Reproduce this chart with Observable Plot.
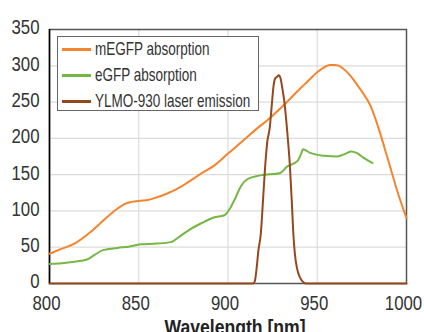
<!DOCTYPE html>
<html>
<head>
<meta charset="utf-8">
<script src="https://cdn.jsdelivr.net/npm/d3@7"></script>
<script src="https://cdn.jsdelivr.net/npm/@observablehq/plot@0.6"></script>
<style>
  html, body { margin: 0; padding: 0; background: #fff; }
  #wrap { position: relative; width: 424px; height: 332px; overflow: hidden; }
  #wrap svg { font-family: "Liberation Sans", Arial, sans-serif; }
  #legend {
    position: absolute; left: 57px; top: 36px; width: 202px; height: 75px;
    border: 1.5px solid #666; background: #fff; box-sizing: border-box;
    font-family: "Liberation Sans", Arial, sans-serif;
    font-size: 18.5px; color: #333;
  }
  .row { position: absolute; left: 0; height: 22px; line-height: 22px; white-space: nowrap; }
  .sw { position: absolute; left: 4px; top: 9px; width: 29px; height: 3px; }
  .lab { position: absolute; left: 37px; top: 0; transform: scaleX(0.73); transform-origin: left center; }
</style>
</head>
<body>
<div id="wrap"></div>
<script>
// mEGFP absorption
const megfpX = [800, 807, 814, 823, 832, 838, 842, 846, 851, 855, 858, 866, 874, 886, 892, 900, 910, 915, 924, 933, 941, 944, 950, 954, 957, 960, 963, 966, 969, 972, 976, 980, 983, 986, 989, 992, 995, 998, 1000];
const megfpY = [41, 48, 55, 71, 91, 103, 109.5, 112.5, 114, 115, 117, 124, 134, 153, 162, 179, 200, 211, 229, 250, 270, 277, 291, 298, 301, 301, 299, 293, 285, 275, 261, 244, 224, 201, 176, 151, 126, 104, 90];
// eGFP absorption
const egfpX = [800, 807, 814, 821, 825, 830, 838, 845, 851, 860, 868, 873, 879, 885, 892, 898, 901, 904, 907, 911, 918, 929, 933, 939, 941, 942, 946, 954, 961, 966, 969, 972, 976, 981];
const egfpY = [27, 28, 30, 33, 39, 46, 49, 51, 54, 55, 57, 65, 75, 83, 91, 94, 103, 117, 133, 144, 149, 152, 161, 169, 179, 185, 180, 176, 175, 179, 182, 180, 173, 166];
// YLMO-930 laser emission
const laserX = [800, 914, 915, 916, 917, 918.4, 919.5, 920.5, 922, 923.4, 924.5, 925.5, 926.5, 927.5, 928.5, 929.5, 930.5, 931.5, 933.3, 934.6, 935.7, 936.6, 937.5, 938.5, 940, 941.7, 943.6, 1000];
const laserY = [0, 0, 3, 20, 45, 69, 110, 150, 195, 215, 245, 272, 283, 285, 287, 282, 268, 252, 206, 165, 115, 69, 40, 23, 10, 3, 0, 0];

const seriesNames = ["mEGFP absorption", "eGFP absorption", "YLMO-930 laser emission"];
const seriesColors = ["#f5842e", "#74b744", "#94481f"];
const xTicks = [800, 850, 900, 950, 1000];
const yTicks = [0, 50, 100, 150, 200, 250, 300, 350];
const xTitle = "Wavelength [nm]";

const toRows = (xs, ys) => xs.map((x, i) => ({x, y: ys[i]}));
const megfp = toRows(megfpX, megfpY);
const egfp = toRows(egfpX, egfpY);
const laser = toRows(laserX, laserY);

const chart = Plot.plot({
  width: 424,
  height: 332,
  marginLeft: 49,
  marginRight: 18,
  marginTop: 29,
  marginBottom: 49,
  style: {fontSize: "20px", color: "#333", background: "#fff", overflow: "visible"},
  x: {domain: [800, 1000]},
  y: {domain: [0, 350]},
  marks: [
    Plot.gridX([850, 900, 950], {stroke: "#dcdcdc", strokeOpacity: 1, strokeWidth: 1.2}),
    Plot.gridY([50, 100, 150, 200, 250, 300], {stroke: "#dcdcdc", strokeOpacity: 1, strokeWidth: 1.2}),
    Plot.frame({stroke: "#555", strokeWidth: 1.5}),
    Plot.ruleX([800], {stroke: "#000", strokeWidth: 1.5}),
    Plot.axisY({ticks: yTicks, tickSize: 0, tickPadding: 10, label: null, fill: "#333", dy: -1.5}),
    Plot.axisX({ticks: xTicks, tickSize: 0, tickPadding: 12, tickFormat: d => String(d), label: null, fill: "#333", dx: -3}),
    Plot.text([xTitle], {frameAnchor: "bottom", dy: 50, dx: 7, lineAnchor: "bottom", textAnchor: "middle", fontSize: 20, fontWeight: "bold", fill: "#222", text: d => d}),
    Plot.line(megfp, {x: "x", y: "y", stroke: seriesColors[0], strokeWidth: 2, curve: "monotone-x"}),
    Plot.line(egfp, {x: "x", y: "y", stroke: seriesColors[1], strokeWidth: 2, curve: "monotone-x"}),
    Plot.line(laser, {x: "x", y: "y", stroke: seriesColors[2], strokeWidth: 2, curve: "monotone-x"})
  ]
});

const wrap = document.getElementById("wrap");
wrap.appendChild(chart);

// condense text horizontally (reference uses a condensed face)
chart.querySelectorAll("text").forEach(t => {
  const bold = t.textContent === xTitle;
  const f = bold ? 0.88 : 0.84;
  const len = t.getComputedTextLength();
  if (len > 0) {
    t.setAttribute("textLength", (len * f).toFixed(2));
    t.setAttribute("lengthAdjust", "spacingAndGlyphs");
  }
});

const legend = document.createElement("div");
legend.id = "legend";
const rowTops = [1, 27, 53];
seriesNames.forEach((name, i) => {
  const row = document.createElement("div");
  row.className = "row";
  row.style.top = rowTops[i] + "px";
  const sw = document.createElement("div");
  sw.className = "sw";
  sw.style.background = seriesColors[i];
  sw.style.top = "10px";
  const lab = document.createElement("div");
  lab.className = "lab";
  lab.textContent = name;
  row.appendChild(sw);
  row.appendChild(lab);
  legend.appendChild(row);
});
wrap.appendChild(legend);
</script>
</body>
</html>
